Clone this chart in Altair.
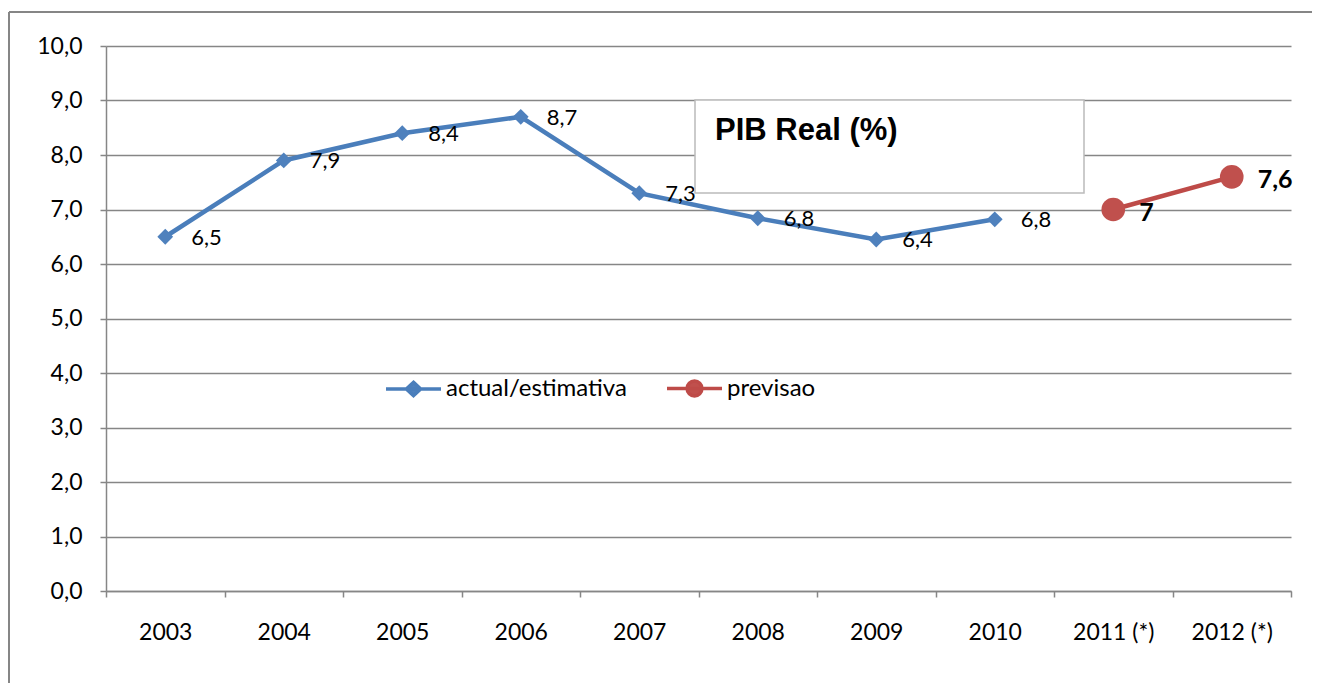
import altair as alt
import pandas as pd

years = ["2003", "2004", "2005", "2006", "2007", "2008", "2009", "2010", "2011 (*)", "2012 (*)"]
values = [6.5, 7.9, 8.4, 8.7, 7.3, 6.84, 6.45, 6.82, 7.0, 7.6]
labels = ["6,5", "7,9", "8,4", "8,7", "7,3", "6,8", "6,4", "6,8", "7", "7,6"]
series = ["actual/estimativa"] * 8 + ["previsao"] * 2
series_names = ["actual/estimativa", "previsao"]
line_colors = ["#4A7EBB", "#BE4B48"]
marker_colors = ["#4F81BD", "#C0504D"]
y_ticks = [0, 1, 2, 3, 4, 5, 6, 7, 8, 9, 10]
title_text = "PIB Real (%)"

df = pd.DataFrame({"year": years, "value": values, "label": labels, "series": series})
one = pd.DataFrame({"k": [0]})

W, H = 1185, 545
FONT = "Lato"
GRAY = "#868686"

x_enc = alt.X(
    "year:N", sort=years, bandPosition=0.5, title=None,
    scale=alt.Scale(type="band", paddingInner=0, paddingOuter=0),
    axis=alt.Axis(tickBand="extent", grid=False, labelAngle=0, domainColor=GRAY,
                  domainWidth=1.5, tickColor=GRAY, tickWidth=1.5, tickSize=6,
                  labelFont=FONT, labelFontSize=23, labelColor="black", labelPadding=24),
)
y_enc = alt.Y(
    "value:Q", title=None,
    scale=alt.Scale(domain=[0, 10], nice=False, zero=True),
    axis=alt.Axis(values=y_ticks, grid=True, gridColor=GRAY, gridWidth=1.5,
                  domainColor=GRAY, domainWidth=1.5, tickColor=GRAY, tickWidth=1.5,
                  tickSize=6, labelFont=FONT, labelFontSize=23, labelColor="black",
                  labelPadding=18,
                  labelExpr="replace(format(datum.value, '.1f'), '.', ',')"),
)

base = alt.Chart(df)
act = base.transform_filter(alt.datum.series == series_names[0])
prev = base.transform_filter(alt.datum.series == series_names[1])

frame_left = alt.Chart(one).mark_rule(stroke=GRAY, strokeWidth=2).encode(
    x=alt.value(-97), x2=alt.value(-97), y=alt.value(-34), y2=alt.value(H + 200)
)
frame_top = alt.Chart(one).mark_rule(stroke=GRAY, strokeWidth=2).encode(
    x=alt.value(-97), x2=alt.value(W + 100), y=alt.value(-34), y2=alt.value(-34)
)

line_a = act.mark_line(strokeWidth=4.5, color=line_colors[0]).encode(x=x_enc, y=y_enc)
line_b = prev.mark_line(strokeWidth=4.5, color=line_colors[1]).encode(x=x_enc, y=y_enc)

pts_a = act.mark_point(
    shape="diamond", filled=True, size=250, opacity=1, color=marker_colors[0]
).encode(x=x_enc, y=y_enc)
pts_b = prev.mark_point(
    shape="circle", filled=True, size=560, opacity=1, color=marker_colors[1]
).encode(x=x_enc, y=y_enc)

lab_a = act.mark_text(
    align="left", baseline="middle", dx=26, dy=1, font=FONT, fontSize=22, color="black"
).encode(x=x_enc, y=y_enc, text="label:N")
lab_b = prev.mark_text(
    align="left", baseline="middle", dx=26, dy=3, font=FONT, fontSize=25,
    fontWeight="bold", color="black"
).encode(x=x_enc, y=y_enc, text="label:N")

box = alt.Chart(one).mark_rect(fill="white", stroke="#BBBBBB", strokeWidth=1.5).encode(
    x=alt.value(589), x2=alt.value(978), y=alt.value(54), y2=alt.value(147)
)
title = alt.Chart(one).mark_text(
    align="left", baseline="alphabetic", font="Liberation Sans", fontSize=31,
    fontWeight="bold", color="black"
).encode(x=alt.value(609), y=alt.value(94), text=alt.value(title_text))

diamond_path = "M-1,0L1,0M0,-0.24L0.26,0L0,0.24L-0.26,0Z"
circle_path = "M-1,0L1,0M0.27,0A0.27,0.27,0,1,1,-0.27,0A0.27,0.27,0,1,1,0.27,0Z"
leg = alt.Legend(title=None, orient="none", legendX=278, legendY=313, direction="horizontal",
                 symbolSize=3025, symbolStrokeWidth=3.5, labelFont=FONT, labelFontSize=24,
                 labelColor="black", labelOffset=3, labelLimit=400, columnPadding=33, padding=0)
legend_layer = base.mark_point(filled=True, size=3025, opacity=1, clip=True).encode(
    x=x_enc,
    y=alt.Y("hidden:Q"),
    fill=alt.Fill("series:N", scale=alt.Scale(domain=series_names, range=marker_colors), legend=leg),
    stroke=alt.Stroke("series:N", scale=alt.Scale(domain=series_names, range=line_colors), legend=leg),
    shape=alt.Shape("series:N", scale=alt.Scale(domain=series_names, range=[diamond_path, circle_path]), legend=leg),
).transform_calculate(hidden="datum.value + 100")

chart = alt.layer(
    frame_left, frame_top, line_a, line_b, pts_a, pts_b, lab_a, lab_b, box, title, legend_layer
).properties(
    width=W, height=H,
    autosize=alt.AutoSizeParams(type="none"),
    padding={"left": 98, "top": 38, "right": 21, "bottom": 92},
).configure_view(stroke=None).configure_legend(
    orient="none", legendX=278, legendY=313, direction="horizontal", labelLimit=400
)

chart.save("out.html", embed_options={"renderer": "svg", "actions": False})
